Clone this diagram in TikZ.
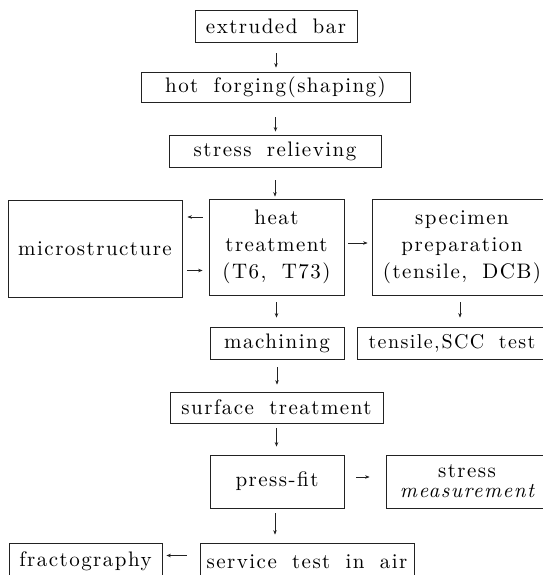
\documentclass[tikz,border=0pt]{standalone}
\usepackage{fontspec}
\setmainfont{lmroman10-regular.otf}[ItalicFont=lmroman10-italic.otf, LetterSpace=7, WordSpace=1.8]
\usetikzlibrary{arrows.meta}
\definecolor{ink}{HTML}{222222}
\tikzset{
  box/.style={draw=ink, line width=0.8pt, inner sep=0pt, align=center,
    text=black, font=\fontsize{21}{27}\selectfont},
  arr/.style={draw=ink, line width=0.6pt, -{Stealth[length=4.5pt,width=3.5pt]}}
}
\begin{document}
\begin{tikzpicture}[x=1pt,y=-1pt]
\useasboundingbox (0,0) rectangle (542,575);
\node[box, minimum width=162pt, minimum height=32pt] (extr) at (276,26) {extruded bar};
\node[box, minimum width=269pt, minimum height=30pt] (hot) at (275.5,87) {hot forging(shaping)};
\node[box, minimum width=212pt, minimum height=32pt] (stress) at (275,151) {stress relieving};
\node[box, minimum width=174pt, minimum height=97pt] (micro) at (95,248.5) {microstructure};
\node[box, minimum width=135pt, minimum height=96pt] (heat) at (276.5,247) {heat\\treatment\\(T6, T73)};
\node[box, minimum width=180pt, minimum height=96pt] (spec) at (462,247) {specimen\\preparation\\(tensile, DCB)};
\node[box, minimum width=134pt, minimum height=32pt] (mach) at (277,343) {machining};
\node[box, minimum width=190pt, minimum height=32pt, font=\fontsize{20}{27}\selectfont] (tens) at (452,343) {tensile,\hspace{2pt}SCC test};
\node[box, minimum width=213pt, minimum height=31pt] (surf) at (276.5,407.5) {surface treatment};
\node[box, minimum width=134pt, minimum height=53pt] (press) at (277,481.5) {press-fit};
\node[box, minimum width=162pt, minimum height=53pt, font=\fontsize{21}{20}\selectfont] (smeas) at (467,481.5) {stress\\\itshape measurement};
\node[box, minimum width=153pt, minimum height=37pt] (fract) at (85.5,561.5) {fractography};
\node[box, minimum width=214pt, minimum height=37pt] (serv) at (307,561.5) {service test in air};
% vertical arrows
\draw[arr, shorten <=11pt, shorten >=4pt] (extr.south) -- (extr.south |- hot.north);
\draw[arr, shorten <=15pt, shorten >=3pt] (hot.south) -- (hot.south |- stress.north);
\draw[arr, shorten <=13pt, shorten >=2pt] (stress.south) -- (stress.south |- heat.north);
\draw[arr, shorten <=7pt, shorten >=9pt] (heat.south) -- (heat.south |- mach.north);
\draw[arr, shorten <=7pt, shorten >=9pt] ([xshift=-2pt]spec.south) -- ([xshift=-2pt]spec.south |- tens.north);
\draw[arr, shorten <=8pt, shorten >=7pt] (mach.south) -- (mach.south |- surf.north);
\draw[arr, shorten <=5pt, shorten >=8pt] (surf.south) -- (surf.south |- press.north);
\draw[arr, shorten <=5pt, shorten >=8pt] ([xshift=-2pt]press.south) -- ([xshift=-2pt]press.south |- serv.north);
% horizontal arrows
\draw[arr, shorten <=6pt, shorten >=5pt] ([yshift=30pt]heat.west) -- ([yshift=30pt]heat.west -| micro.east);
\draw[arr, shorten <=5pt, shorten >=6pt] ([yshift=-22pt]micro.east) -- ([yshift=-22pt]micro.east -| heat.west);
\draw[arr, shorten <=4pt, shorten >=4pt] ([yshift=4pt]heat.east) -- ([yshift=4pt]heat.east -| spec.west);
\draw[arr, shorten <=12pt, shorten >=16pt] ([yshift=4.5pt]press.east) -- ([yshift=4.5pt]press.east -| smeas.west);
\draw[arr, shorten <=13pt, shorten >=4pt] ([yshift=6pt]serv.west) -- ([yshift=6pt]serv.west -| fract.east);
\end{tikzpicture}
\end{document}
